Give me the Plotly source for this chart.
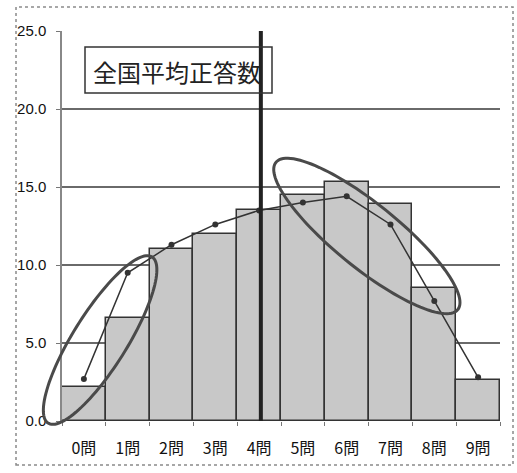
import numpy as np
import plotly.graph_objects as go

# Number of correct answers per pupil (0–9) and the share of pupils (%)
categories = ["0問", "1問", "2問", "3問", "4問", "5問", "6問", "7問", "8問", "9問"]
school_pct = [2.2, 6.6, 11.0, 12.0, 13.5, 14.5, 15.3, 13.9, 8.5, 2.6]
national_pct = [2.7, 9.5, 11.3, 12.6, 13.5, 14.0, 14.4, 12.6, 7.7, 2.8]
national_mean = 4.04
y_ticks = [0, 5, 10, 15, 20, 25]

W, H = 517, 473
M = dict(l=62, r=17, t=31, b=52)
x_range = [-0.5, 9.5]
y_range = [0, 25]
plot_w = W - M["l"] - M["r"]
plot_h = H - M["t"] - M["b"]


def to_paper(xd, yd):
    """Data coordinates -> paper coordinates (so shapes are not clipped)."""
    px = (np.asarray(xd) - x_range[0]) / (x_range[1] - x_range[0])
    py = (np.asarray(yd) - y_range[0]) / (y_range[1] - y_range[0])
    return px, py


x = list(range(len(categories)))

fig = go.Figure()
fig.add_trace(go.Bar(
    x=x, y=school_pct, width=1.0,
    marker=dict(color="#c8c8c8", line=dict(color="#333333", width=1.5)),
    showlegend=False,
))
fig.add_trace(go.Scatter(
    x=x, y=national_pct, mode="lines+markers",
    line=dict(color="#333333", width=1.5),
    marker=dict(color="#333333", size=6),
    showlegend=False,
))


def ellipse_path(cx, cy, a_px, b_px, angle_deg, n=120):
    """Closed SVG path (paper coords) for a rotated ellipse sized in pixels."""
    t = np.linspace(0, 2 * np.pi, n)
    th = np.radians(angle_deg)
    dx = a_px * np.cos(t) * np.cos(th) - b_px * np.sin(t) * np.sin(th)
    dy = a_px * np.cos(t) * np.sin(th) + b_px * np.sin(t) * np.cos(th)
    pcx, pcy = to_paper(cx, cy)
    xs = pcx + dx / plot_w
    ys = pcy + dy / plot_h
    pts = [f"{xx:.5f},{yy:.5f}" for xx, yy in zip(xs, ys)]
    return "M " + " L ".join(pts) + " Z"


shapes = [
    # national average marker line
    dict(type="line", xref="x", yref="y", x0=national_mean, x1=national_mean,
         y0=0, y1=25, line=dict(color="#222222", width=4), layer="above"),
    # highlighted regions
    dict(type="path", xref="paper", yref="paper",
         path=ellipse_path(0.37, 5.19, 98, 27, 58),
         line=dict(color="#4a4a4a", width=3), layer="above"),
    dict(type="path", xref="paper", yref="paper",
         path=ellipse_path(6.46, 11.86, 117, 32, -39),
         line=dict(color="#4a4a4a", width=3), layer="above"),
    # label frame
    dict(type="rect", xref="paper", yref="paper",
         x0=(85 - M["l"]) / plot_w, x1=(272 - M["l"]) / plot_w,
         y0=(H - M["b"] - 93) / plot_h, y1=(H - M["b"] - 47) / plot_h,
         line=dict(color="#333333", width=1.5), layer="above"),
    # outer chart frame
    dict(type="rect", xref="paper", yref="paper",
         x0=-0.105, x1=1.0297, y0=-0.1128, y1=1.0615,
         line=dict(color="#8a8a8a", width=1.5, dash="dot")),
]

fig.update_layout(
    width=W, height=H, margin=M,
    paper_bgcolor="white", plot_bgcolor="white",
    bargap=0, shapes=shapes,
    annotations=[dict(
        text="全国平均正答数", xref="paper", yref="paper",
        x=(176.5 - M["l"]) / plot_w, y=(H - M["b"] - 72) / plot_h,
        xanchor="center", yanchor="middle", showarrow=False,
        font=dict(family="Noto Sans CJK JP", size=24, color="#222222"),
    )],
)
fig.update_xaxes(
    range=x_range, tickvals=x, ticktext=categories, ticks="",
    tickfont=dict(family="Liberation Sans Narrow, Noto Sans CJK JP", size=16, color="#111111"),
    ticklabelstandoff=16,
    showgrid=False, zeroline=False, showline=False,
    minor=dict(tickvals=[i - 0.5 for i in range(len(categories) + 1)],
               ticks="outside", ticklen=4, tickcolor="#777777"),
)
fig.update_yaxes(
    range=y_range, tickvals=y_ticks, ticktext=[f"{v:.1f}" for v in y_ticks],
    ticks="outside", ticklen=4, tickcolor="#777777",
    tickfont=dict(family="Liberation Sans Narrow, Liberation Sans", size=15, color="#111111"),
    ticklabelstandoff=7,
    showgrid=True, gridcolor="#6a6a6a", gridwidth=1.5,
    zeroline=False, showline=True, linecolor="#888888", linewidth=1.5,
)

fig.write_html("out.html")
